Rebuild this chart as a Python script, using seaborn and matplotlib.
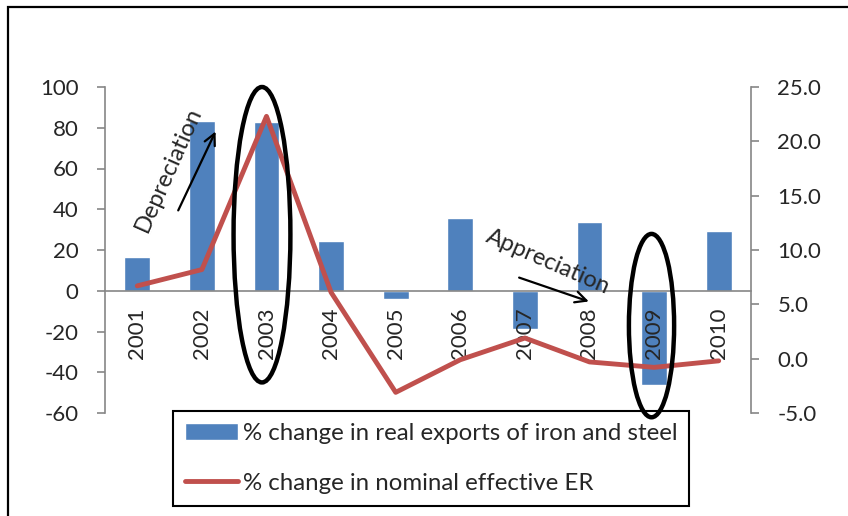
"""
Iron and steel exports vs nominal effective exchange rate, 2001-2010
"""

import matplotlib
matplotlib.use('Agg')
import matplotlib.pyplot as plt
from matplotlib.patches import Ellipse, Rectangle
import seaborn as sns
import pandas as pd
import numpy as np

# DATA
years = ['2001', '2002', '2003', '2004', '2005',
         '2006', '2007', '2008', '2009', '2010']
exports_change = [16.7, 83.3, 82.7, 24.4, -4.0, 35.5, -18.9, 33.6, -46.4, 29.3]
neer_change = [6.7, 8.2, 22.3, 6.1, -3.1, -0.1, 1.9, -0.3, -0.8, -0.2]
left_ticks = [-60, -40, -20, 0, 20, 40, 60, 80, 100]
right_ticks = [-5, 0, 5, 10, 15, 20, 25]

bar_label = '% change in real exports of iron and steel'
line_label = '% change in nominal effective ER'

df = pd.DataFrame({'year': years, 'exports': exports_change, 'neer': neer_change})

# STYLE
sns.set_style('white')
plt.rcParams['font.family'] = ['Lato', 'DejaVu Sans']
plt.rcParams['axes.unicode_minus'] = False
blue, red, grey = '#4F81BD', '#C0504D', '#868686'
fs = 16

fig = plt.figure(figsize=(8.48, 5.16), dpi=100)
ax = fig.add_axes([105 / 848, 1 - 413 / 516, 646 / 848, (413 - 87) / 516])

# bars on the left axis
sns.barplot(data=df, x='year', y='exports', color=blue, width=0.4,
            saturation=1, ax=ax, label=bar_label, zorder=2)
ax.set_ylim(-60, 100)
ax.set_xlim(-0.5, len(years) - 0.5)
ax.set_yticks(left_ticks)
ax.set_xlabel('')
ax.set_ylabel('')
# year labels are written over the bars
ax.xaxis.set_zorder(3)

# category axis sits on the zero line
ax.spines['bottom'].set_position(('data', 0))
for s in ['top', 'right']:
    ax.spines[s].set_visible(False)
for s in ['left', 'bottom']:
    ax.spines[s].set_color(grey)
    ax.spines[s].set_linewidth(1.2)
ax.set_xticks(np.arange(-0.5, len(years), 1), minor=True)
ax.tick_params(axis='x', which='major', length=0, pad=12, labelsize=fs,
               labelrotation=90)
ax.tick_params(axis='x', which='minor', length=5, width=1.2, color=grey,
               direction='out')
ax.tick_params(axis='y', length=6, width=1.2, color=grey, direction='out',
               pad=13, labelsize=fs)

# line on the right axis
ax2 = ax.twinx()
sns.lineplot(data=df, x='year', y='neer', color=red, linewidth=3.5,
             ax=ax2, label=line_label, solid_capstyle='round', sort=False)
ax2.set_ylim(-5, 25)
ax2.set_yticks(right_ticks)
ax2.set_yticklabels(['%.1f' % t for t in right_ticks])
ax2.set_ylabel('')
ax2.set_xlim(-0.5, len(years) - 0.5)
for s in ['top', 'left', 'bottom']:
    ax2.spines[s].set_visible(False)
ax2.spines['right'].set_color(grey)
ax2.spines['right'].set_linewidth(1.2)
ax2.tick_params(axis='y', length=6, width=1.2, color=grey, direction='out',
                pad=13, labelsize=fs)

# annotations: ellipses, arrows, text
for cx, cy, w, h in [(1.93, 27.5, 0.88, 145), (7.96, -17.1, 0.70, 90)]:
    ax2.add_patch(Ellipse((cx, cy), w, h, transform=ax.transData, fill=False,
                          edgecolor='k', linewidth=3.2, clip_on=False, zorder=10))

ax2.annotate('', xy=(1.23, 79.4), xytext=(0.615, 38.2),
             xycoords=ax.transData, textcoords=ax.transData,
             arrowprops=dict(arrowstyle='->', color='k', lw=1.6,
                             mutation_scale=20), zorder=10)
ax2.annotate('', xy=(7.03, -5.7), xytext=(5.87, 6.9),
             xycoords=ax.transData, textcoords=ax.transData,
             arrowprops=dict(arrowstyle='->', color='k', lw=1.6,
                             mutation_scale=20), zorder=10)
ax2.text(0.48, 59.3, 'Depreciation', transform=ax.transData, rotation=66,
         ha='center', va='center', fontsize=17, rotation_mode='anchor', zorder=10)
ax2.text(6.36, 14.3, 'Appreciation', transform=ax.transData, rotation=-23.5,
         ha='center', va='center', fontsize=17, rotation_mode='anchor', zorder=10)

# legend in a boxed frame under the plot
h1, l1 = ax.get_legend_handles_labels()
h2, l2 = ax2.get_legend_handles_labels()
if ax.get_legend() is not None:
    ax.get_legend().remove()
leg = ax2.legend(h1 + h2, l1 + l2, loc='upper left',
                 bbox_to_anchor=(173 / 848, 1 - 411 / 516),
                 bbox_transform=fig.transFigure, fontsize=17.3, frameon=True,
                 fancybox=False, edgecolor='k', framealpha=1,
                 handlelength=2.2, handletextpad=0.2, labelspacing=1.2,
                 borderpad=0.5, borderaxespad=0)
leg.get_frame().set_linewidth(1.5)
leg.set_zorder(5)

# outer chart frame (runs off the right and bottom edges)
fig.add_artist(Rectangle((8 / 848, -0.05), 1.0, 1 - 7 / 516 + 0.05,
                         transform=fig.transFigure, fill=False,
                         edgecolor='k', linewidth=1.6))

fig.savefig('out.png', dpi=100)
plt.close('all')
